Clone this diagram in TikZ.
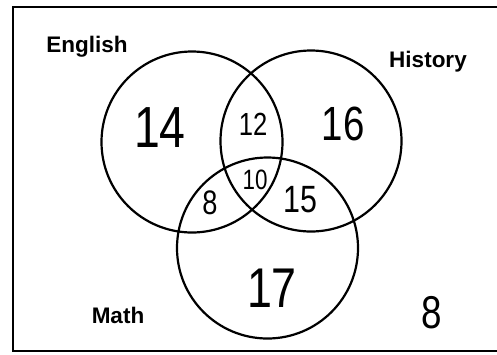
\documentclass[tikz,border=0pt]{standalone}
\usepackage{fontspec}
\setmainfont{Liberation Sans}
\newfontfamily\handfont[FakeStretch=0.8]{Liberation Sans}
\usetikzlibrary{positioning}
\tikzset{venn/.style={draw,circle,line width=2.2pt,inner sep=0pt,minimum size=181pt},
 setname/.style={font=\fontsize{22.5}{22.5}\selectfont\bfseries},
 cnt/.style={font=\handfont\fontsize{#1}{#1}\selectfont,inner sep=0pt},
 frame/.style={line width=2pt}}
\begin{document}
\begin{tikzpicture}[x=1pt,y=-1pt]
\useasboundingbox (0,0) rectangle (497,354);
\draw[frame] (13,7) rectangle (505,351);
\node[venn] (eng) at (192,142) {};
\node[venn] (his) at (311,141) {};
\node[venn] (mat) at (267.5,248) {};
\node[setname] (engl) at (87,47) {English};
\node[setname] (hisl) at (428,62) {History};
\node[setname] (matl) at (118,315) {Math};
% region counts
\node[cnt=58] (onlyE) at (160,128) {14};
\node[cnt=32] (EH) at (253,124) {12};
\node[cnt=48] (onlyH) at (343,124) {16};
\node[cnt=28] (EHM) at (255,180) {10};
\node[cnt=34] (EM) at (210,203) {8};
\node[cnt=38] (HM) at (300,200) {15};
\node[cnt=56] (onlyM) at (272,288) {17};
\node[cnt=46] (none) at (432,313) {8};
\end{tikzpicture}
\end{document}
